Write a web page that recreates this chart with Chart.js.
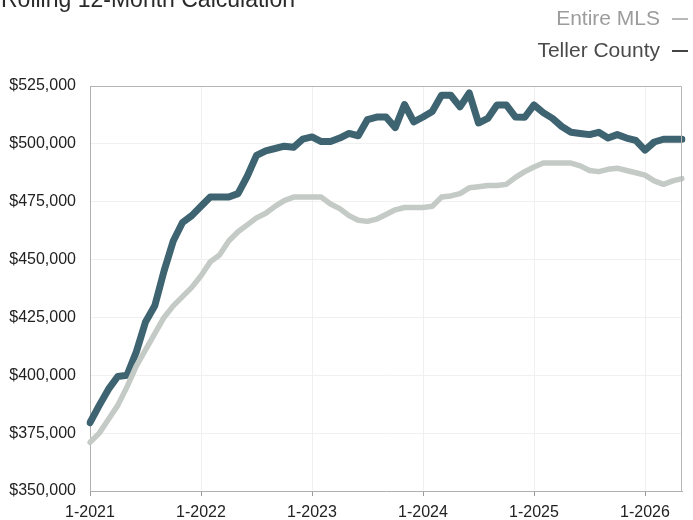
<!DOCTYPE html>
<html>
<head>
<meta charset="utf-8">
<script src="https://cdn.jsdelivr.net/npm/chart.js@4.4.1/dist/chart.umd.min.js"></script>
<style>
  html, body { margin: 0; padding: 0; background: #fff; }
  body { width: 693px; height: 520px; position: relative; overflow: hidden; font-family: 'Liberation Sans', Arial, sans-serif; }
  #wrap { position: absolute; left: 0; top: 0; width: 693px; height: 520px; }
  #title { position: absolute; left: 1px; top: -12px; font-size: 23px; line-height: 23px; color: #2a2a2a; white-space: nowrap; }
  .leg { position: absolute; right: 0; font-size: 21px; line-height: 22px; white-space: nowrap; }
  .leg span.dash { display: inline-block; width: 16px; height: 2px; margin-left: 12px; vertical-align: middle; margin-right: 5px; }
</style>
</head>
<body>
<div id="wrap"><canvas id="c" width="693" height="520"></canvas></div>
<div id="title">Rolling 12-Month Calculation</div>
<div class="leg" style="top:7px; color:#9c9c9c;">Entire MLS<span class="dash" style="background:#b8b8b8"></span></div>
<div class="leg" style="top:39px; color:#4a4a4a;">Teller County<span class="dash" style="background:#444"></span></div>
<script>
const months = [
  "1-2021","2-2021","3-2021","4-2021","5-2021","6-2021","7-2021","8-2021","9-2021","10-2021","11-2021","12-2021",
  "1-2022","2-2022","3-2022","4-2022","5-2022","6-2022","7-2022","8-2022","9-2022","10-2022","11-2022","12-2022",
  "1-2023","2-2023","3-2023","4-2023","5-2023","6-2023","7-2023","8-2023","9-2023","10-2023","11-2023","12-2023",
  "1-2024","2-2024","3-2024","4-2024","5-2024","6-2024","7-2024","8-2024","9-2024","10-2024","11-2024","12-2024",
  "1-2025","2-2025","3-2025","4-2025","5-2025","6-2025","7-2025","8-2025","9-2025","10-2025","11-2025","12-2025",
  "1-2026","2-2026","3-2026","4-2026","5-2026"
];
const tellerCounty = [
  379500, 387000, 394000, 399500, 400000, 410000, 423000, 430000, 445000, 458000, 466000, 469000,
  473000, 477000, 477000, 477000, 478500, 486000, 495000, 497000, 498000, 499000, 498500, 502000,
  503000, 501000, 501000, 502500, 504500, 503500, 510500, 511600, 511600, 507000, 517000, 509500,
  511600, 514000, 521000, 521000, 516000, 522000, 509000, 511000, 516800, 516800, 511600, 511500,
  516800, 513500, 511000, 507500, 505000, 504500, 504000, 505000, 502500, 504000, 502500, 501500,
  497300, 500800, 502000, 502000, 502000
];
const entireMLS = [
  371000, 375000, 381000, 387000, 395000, 404000, 411000, 418000, 425000, 430000, 434000, 438000,
  443000, 449000, 452000, 458000, 462000, 465000, 468000, 470000, 473000, 475500, 477000, 477000,
  477000, 477000, 474000, 472000, 469000, 467000, 466500, 467500, 469500, 471500, 472500, 472500,
  472500, 473000, 477000, 477500, 478500, 481000, 481500, 482000, 482000, 482500, 485500, 488000,
  490000, 491700, 491700, 491700, 491700, 490500, 488500, 488000, 489000, 489500, 488500, 487500,
  486500, 484000, 482500, 484000, 485000
];
const yTicks = [350000, 375000, 400000, 425000, 450000, 475000, 500000, 525000];

const frame = {
  id: 'frame',
  afterDatasetsDraw(chart) {
    const a = chart.chartArea, ctx = chart.ctx;
    ctx.save();
    ctx.strokeStyle = '#b5b5b5';
    ctx.lineWidth = 1;
    ctx.beginPath();
    ctx.moveTo(a.left + 0.5, a.top + 0.5);
    ctx.lineTo(a.right - 0.5, a.top + 0.5);
    ctx.lineTo(a.right - 0.5, a.bottom);
    ctx.stroke();
    ctx.restore();
  }
};

new Chart(document.getElementById('c'), {
  type: 'line',
  data: {
    labels: months,
    datasets: [
      { label: 'Entire MLS', data: entireMLS, borderColor: '#c4cac5', borderWidth: 5.5, pointRadius: 0, tension: 0, borderJoinStyle: 'round', borderCapStyle: 'round' },
      { label: 'Teller County', data: tellerCounty, borderColor: '#3e6471', borderWidth: 7, pointRadius: 0, tension: 0, borderJoinStyle: 'round', borderCapStyle: 'round' }
    ]
  },
  options: {
    responsive: false,
    animation: false,
    devicePixelRatio: 1,
    layout: { padding: { top: 86, right: 11, left: 0, bottom: 0 } },
    plugins: { legend: { display: false }, tooltip: { enabled: false } },
    scales: {
      x: {
        type: 'category',
        offset: false,
        border: { color: '#b0b0b0', width: 1 },
        grid: { color: '#f0f0f0', tickColor: '#9a9a9a', tickLength: 5, drawTicks: true },
        ticks: {
          autoSkip: false, maxRotation: 0, minRotation: 0, padding: 7,
          color: '#222', font: { family: "'Liberation Sans', Arial, sans-serif", size: 16 },
          callback: function(v, i) { const l = months[i]; return l.startsWith('1-') ? l : null; }
        },
        afterFit(s) { s.height = 29; }
      },
      y: {
        min: yTicks[0], max: yTicks[yTicks.length - 1],
        afterBuildTicks(s) { s.ticks = yTicks.map(v => ({ value: v })); },
        border: { color: '#b0b0b0', width: 1 },
        grid: { color: '#f0f0f0', drawTicks: false },
        ticks: {
          padding: 14, color: '#222', font: { family: "'Liberation Sans', Arial, sans-serif", size: 16 },
          callback: v => '$' + Number(v).toLocaleString('en-US')
        },
        afterFit(s) { s.width = 90; }
      }
    }
  },
  plugins: [frame]
});
</script>
</body>
</html>
